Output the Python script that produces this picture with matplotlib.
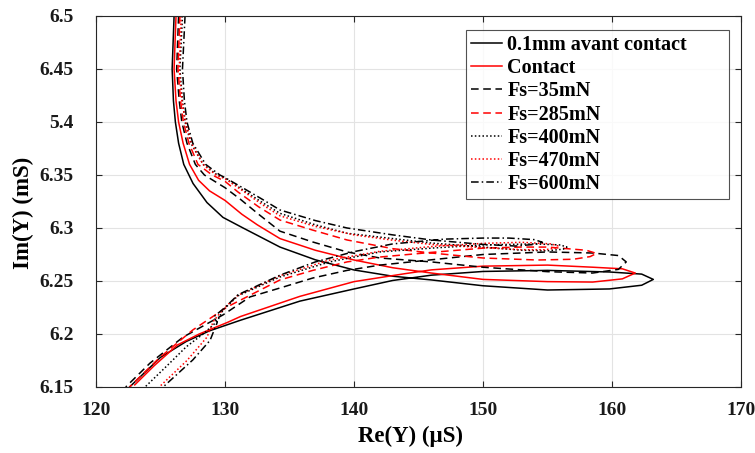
import matplotlib
matplotlib.use("Agg")
from matplotlib import pyplot as plt

plt.rcParams['font.family'] = ['Liberation Serif', 'DejaVu Serif']
plt.rcParams['font.weight'] = 'bold'

# data (Re in uS, Im in mS)
labels = ["0.1mm avant contact", "Contact", "Fs=35mN", "Fs=285mN",
          "Fs=400mN", "Fs=470mN", "Fs=600mN"]

x_avant = [126.05, 125.9, 126.0, 126.15, 126.4, 126.8, 127.52, 128.6, 129.84, 131.4,
           134.26, 137.0, 140.0, 143.0, 146.0, 150.0, 155.0, 159.8, 162.3, 163.2,
           162.3, 159.8, 155.0, 150.0, 146.0, 143.0, 140.0, 135.8, 131.2, 128.8,
           127.0, 125.0, 122.6]
y_avant = [6.50, 6.45, 6.42, 6.40, 6.38, 6.36, 6.342, 6.324, 6.310, 6.300,
           6.282, 6.270, 6.2604, 6.2545, 6.251, 6.2455, 6.2415, 6.2425, 6.246, 6.2515,
           6.2565, 6.2585, 6.260, 6.259, 6.2555, 6.2505, 6.2425, 6.231, 6.213, 6.203,
           6.193, 6.178, 6.150]

x_contact = [126.2, 126.05, 126.2, 126.4, 126.75, 127.25, 127.95, 128.8, 130.0, 131.3,
             132.5, 134.26, 137.0, 140.0, 143.0, 146.0, 150.0, 155.0, 158.5, 160.8,
             161.8, 160.8, 158.5, 155.0, 150.0, 146.0, 144.0, 140.0, 135.8, 131.2,
             130.2, 128.0, 126.3, 124.5, 123.0]
y_contact = [6.50, 6.45, 6.42, 6.40, 6.38, 6.36, 6.345, 6.335, 6.326, 6.313,
             6.303, 6.290, 6.279, 6.2698, 6.2625, 6.2575, 6.2515, 6.2494, 6.249, 6.252,
             6.2575, 6.2615, 6.263, 6.265, 6.264, 6.2605, 6.257, 6.2494, 6.2355, 6.2165,
             6.211, 6.200, 6.1896, 6.170, 6.152]

x_fs35 = [126.4, 126.25, 126.45, 126.65, 127.05, 127.7, 128.4, 130.0, 131.2, 132.6,
          134.26, 136.8, 139.46, 142.0, 146.0, 150.0, 155.0, 158.5, 160.5, 161.1,
          160.5, 158.5, 155.0, 150.0, 146.0, 142.0, 139.46, 136.8, 134.26, 131.94,
          129.84, 126.74, 124.19, 122.3]
y_fs35 = [6.50, 6.45, 6.42, 6.40, 6.38, 6.36, 6.35, 6.338, 6.327, 6.313,
          6.297, 6.2868, 6.2774, 6.2717, 6.268, 6.263, 6.2588, 6.2575, 6.261, 6.268,
          6.274, 6.2764, 6.2774, 6.275, 6.270, 6.265, 6.260, 6.2528, 6.2434, 6.235,
          6.218, 6.197, 6.1726, 6.150]

x_fs285 = [126.5, 126.35, 126.55, 126.77, 127.2, 127.9, 129.0, 130.0, 131.0, 132.6,
           134.26, 136.8, 139.46, 143.0, 146.0, 150.0, 154.2, 157.0, 158.3, 158.8,
           158.0, 157.0, 155.0, 152.9, 150.0, 146.0, 142.0, 139.46, 136.8, 134.26,
           130.16, 127.5, 124.96, 122.6]
y_fs285 = [6.50, 6.45, 6.42, 6.40, 6.38, 6.36, 6.35, 6.344, 6.334, 6.320,
           6.3075, 6.298, 6.2887, 6.2805, 6.2764, 6.2717, 6.2698, 6.2705, 6.273, 6.276,
           6.279, 6.280, 6.282, 6.282, 6.281, 6.277, 6.2726, 6.268, 6.260, 6.251,
           6.2255, 6.2038, 6.178, 6.150]

x_fs400 = [126.7, 126.5, 126.7, 126.9, 127.35, 128.3, 129.4, 130.0, 131.5, 132.9,
           134.26, 137.0, 139.46, 143.0, 146.0, 150.0, 153.0, 155.0, 156.2, 156.5,
           156.0, 154.0, 150.0, 146.0, 142.0, 138.1, 134.26, 131.0, 129.84, 129.4,
           128.3, 127.0, 125.5, 123.8]
y_fs400 = [6.50, 6.45, 6.42, 6.40, 6.38, 6.36, 6.35, 6.347, 6.335, 6.324,
           6.3138, 6.303, 6.295, 6.290, 6.2858, 6.282, 6.279, 6.2785, 6.280, 6.282,
           6.284, 6.285, 6.284, 6.281, 6.2774, 6.268, 6.2538, 6.236, 6.2226, 6.212,
           6.200, 6.188, 6.170, 6.150]

x_fs470 = [126.6, 126.45, 126.65, 126.95, 127.4, 128.3, 129.3, 130.0, 131.5, 132.9,
           134.26, 137.0, 140.0, 143.0, 146.0, 150.0, 153.0, 154.8, 155.6, 155.8,
           155.3, 153.0, 150.0, 146.0, 142.0, 138.0, 134.26, 131.0, 129.9, 129.1,
           128.6, 127.05, 124.9]
y_fs470 = [6.50, 6.45, 6.42, 6.40, 6.38, 6.36, 6.35, 6.3465, 6.334, 6.322,
           6.3115, 6.3015, 6.2935, 6.2885, 6.2845, 6.2815, 6.2795, 6.2795, 6.281, 6.283,
           6.285, 6.2865, 6.2855, 6.2825, 6.278, 6.2695, 6.255, 6.2365, 6.224, 6.212,
           6.197, 6.175, 6.150]

x_fs600 = [126.9, 126.7, 126.85, 127.05, 127.5, 128.5, 129.6, 130.0, 131.5, 132.9,
           134.26, 137.0, 139.46, 143.0, 146.0, 150.0, 152.5, 154.0, 154.6,
           154.0, 152.0, 150.0, 147.0, 143.0, 140.0, 137.0, 134.26, 131.0, 130.0,
           129.1, 129.4, 129.2, 128.84, 127.5, 125.2]
y_fs600 = [6.50, 6.45, 6.42, 6.40, 6.38, 6.36, 6.35, 6.3475, 6.337, 6.327,
           6.317, 6.307, 6.300, 6.2935, 6.2887, 6.2845, 6.283, 6.2845, 6.2865,
           6.289, 6.2905, 6.2905, 6.2895, 6.285, 6.2777, 6.268, 6.2555, 6.237, 6.225,
           6.216, 6.211, 6.205, 6.194, 6.1755, 6.150]

xs = [x_avant, x_contact, x_fs35, x_fs285, x_fs400, x_fs470, x_fs600]
ys = [y_avant, y_contact, y_fs35, y_fs285, y_fs400, y_fs470, y_fs600]

colors = ['black', 'red', 'black', 'red', 'black', 'red', 'black']
styles = ['-', '-', (0, (5, 3)), (0, (5, 3)), (0, (1, 1.5)), (0, (1, 1.5)),
          (0, (5, 2, 1, 2))]

x_ticks = [120, 130, 140, 150, 160, 170]
y_ticks = [6.15, 6.2, 6.25, 6.3, 6.35, 6.4, 6.45, 6.5]
y_tick_labels = ["6.15", "6.2", "6.25", "6.3", "6.35", "5.4", "6.45", "6.5"]

fig = plt.figure(figsize=(7.55, 4.53), dpi=100)
ax = fig.add_axes([0.1272, 0.1457, 0.8543, 0.819])

for x, y, c, ls, lab in zip(xs, ys, colors, styles, labels):
    ax.plot(x, y, color=c, linestyle=ls, linewidth=1.1, label=lab)

ax.set_xlim(120, 170)
ax.set_ylim(6.15, 6.5)
ax.set_xticks(x_ticks)
ax.set_yticks(y_ticks)
ax.set_yticklabels(y_tick_labels)

ax.grid(True, color='#e3e3e3', linewidth=0.8)
ax.set_axisbelow(True)
ax.tick_params(direction='in', top=True, right=True, length=4, width=0.8,
               labelsize=14, colors='#262626', labelcolor='#1a1a1a')
ax.tick_params(axis='x', pad=11)
ax.tick_params(axis='y', pad=16)
for s in ax.spines.values():
    s.set_color('#262626')
    s.set_linewidth(0.8)

ax.set_xlabel("Re(Y) (µS)", fontsize=16.5, fontweight='bold', labelpad=5)
ax.set_ylabel("Im(Y) (mS)", fontsize=16.5, fontweight='bold', labelpad=4)
ax.xaxis.label.set_x(0.487)
ax.yaxis.label.set_y(0.47)

# legend box spans a fixed region like the original
leg = ax.legend(loc='upper left', bbox_to_anchor=(0.5736, 0.5175, 0.4078, 0.4448),
                mode='expand', fontsize=14.5, frameon=True, fancybox=False,
                edgecolor='#262626', handlelength=1.55, handletextpad=0.25,
                labelspacing=0.16, borderaxespad=0, borderpad=0.25)
leg.get_frame().set_linewidth(0.8)
for t in leg.get_texts():
    t.set_fontweight('bold')

fig.savefig("out.png", dpi=100)
